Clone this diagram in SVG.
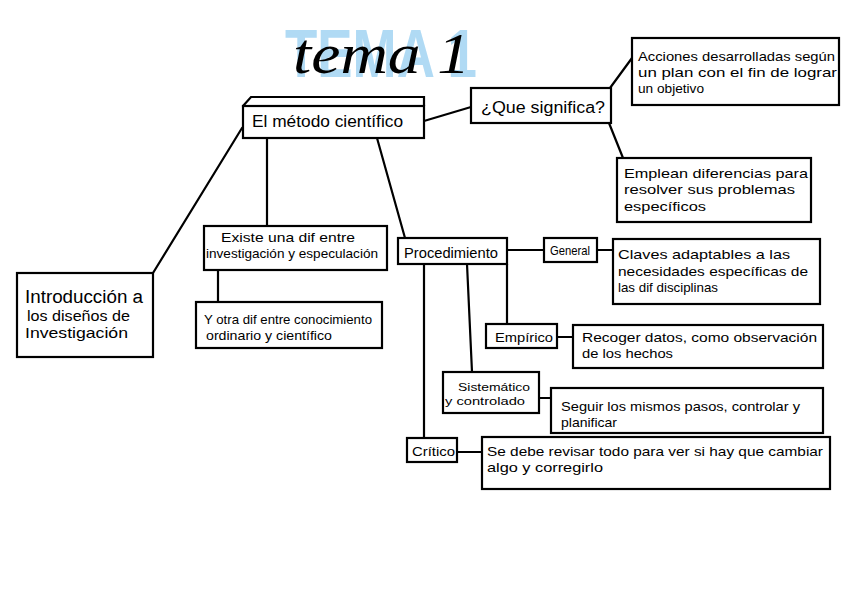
<svg xmlns="http://www.w3.org/2000/svg" width="848" height="599" viewBox="0 0 848 599">
<defs>
<style>
.b{fill:#fff;stroke:#000;stroke-width:2.2}
.c{fill:none;stroke:#000;stroke-width:2.2;stroke-linecap:round}
.t{font-family:"Liberation Sans","DejaVu Sans",sans-serif;font-size:13px;fill:#000}
.m{font-size:16px}
.s18{font-size:18px}
.s15{font-size:15px}
.s14{font-size:14px}
.s11{font-size:11px}
</style>
</defs>
<rect width="848" height="599" fill="#fff"/>
<g id="title">
<text x="285" y="77" font-family="'Liberation Sans',sans-serif" font-weight="bold" font-size="68" fill="#8ecbf0" fill-opacity="0.7" textLength="192" lengthAdjust="spacingAndGlyphs">TEMA 1</text>
<text x="293" y="73" font-family="'Liberation Serif',serif" font-style="italic" font-size="56" fill="#000" textLength="177" lengthAdjust="spacingAndGlyphs">tema 1</text>
</g>
<g id="connectors" class="c">
<line x1="424" y1="121" x2="471" y2="107"/>
<line x1="610" y1="88" x2="632" y2="58"/>
<line x1="609" y1="123" x2="623" y2="158"/>
<line x1="242" y1="128" x2="153" y2="273"/>
<line x1="267" y1="138" x2="267" y2="226"/>
<line x1="218" y1="270" x2="218" y2="302"/>
<line x1="377" y1="138" x2="405" y2="238"/>
<line x1="507" y1="250" x2="544" y2="250"/>
<line x1="597" y1="250" x2="613" y2="250"/>
<line x1="507" y1="264" x2="507" y2="324"/>
<line x1="557" y1="337" x2="573" y2="337"/>
<line x1="467" y1="264" x2="472" y2="372"/>
<line x1="539" y1="398" x2="551" y2="398"/>
<line x1="424" y1="264" x2="424" y2="437"/>
<line x1="457" y1="452" x2="482" y2="452"/>
</g>
<g id="metodo">
<rect class="b" x="243" y="106" width="181" height="32"/>
<path class="c" d="M243,106 L251,97 L424,97 L424,106"/>
<text class="t m" x="252" y="127" textLength="151" lengthAdjust="spacingAndGlyphs">El método científico</text>
</g>
<g id="que">
<rect class="b" x="471" y="88" width="140" height="35"/>
<text class="t m" x="481" y="113" textLength="124" lengthAdjust="spacingAndGlyphs">¿Que significa?</text>
</g>
<g id="acciones">
<rect class="b" x="632" y="38" width="207" height="67"/>
<text class="t" x="638" y="61" textLength="197" lengthAdjust="spacingAndGlyphs">Acciones desarrolladas según</text>
<text class="t" x="638" y="77" textLength="199" lengthAdjust="spacingAndGlyphs">un plan con el fin de lograr</text>
<text class="t" x="638" y="93" textLength="66" lengthAdjust="spacingAndGlyphs">un objetivo</text>
</g>
<g id="emplean">
<rect class="b" x="617" y="158" width="194" height="64"/>
<text class="t" x="624" y="178" textLength="184" lengthAdjust="spacingAndGlyphs">Emplean diferencias para</text>
<text class="t" x="624" y="194" textLength="171" lengthAdjust="spacingAndGlyphs">resolver sus problemas</text>
<text class="t" x="624" y="211" textLength="82" lengthAdjust="spacingAndGlyphs">específicos</text>
</g>
<g id="intro">
<rect class="b" x="17" y="273" width="136" height="84"/>
<text class="t s18" x="25" y="303" textLength="118" lengthAdjust="spacingAndGlyphs">Introducción a</text>
<text class="t s15" x="27" y="321" textLength="103" lengthAdjust="spacingAndGlyphs">los diseños de</text>
<text class="t s15" x="25" y="338" textLength="103" lengthAdjust="spacingAndGlyphs">Investigación</text>
</g>
<g id="existe">
<rect class="b" x="204" y="226" width="183" height="44"/>
<text class="t" x="221" y="242" textLength="134" lengthAdjust="spacingAndGlyphs">Existe una dif entre</text>
<text class="t" x="206" y="258" textLength="172" lengthAdjust="spacingAndGlyphs">investigación y especulación</text>
</g>
<g id="yotra">
<rect class="b" x="196" y="302" width="186" height="46"/>
<text class="t" x="204" y="324" textLength="168" lengthAdjust="spacingAndGlyphs">Y otra dif entre conocimiento</text>
<text class="t" x="206" y="340" textLength="126" lengthAdjust="spacingAndGlyphs">ordinario y científico</text>
</g>
<g id="procedimiento">
<rect class="b" x="398" y="238" width="109" height="26"/>
<text class="t s14" x="404" y="258" textLength="94" lengthAdjust="spacingAndGlyphs">Procedimiento</text>
</g>
<g id="general">
<rect class="b" x="544" y="238" width="53" height="24"/>
<text class="t" x="550" y="255" textLength="40" lengthAdjust="spacingAndGlyphs">General</text>
</g>
<g id="claves">
<rect class="b" x="613" y="239" width="207" height="65"/>
<text class="t" x="618" y="259" textLength="172" lengthAdjust="spacingAndGlyphs">Claves adaptables a las</text>
<text class="t" x="618" y="276" textLength="190" lengthAdjust="spacingAndGlyphs">necesidades específicas de</text>
<text class="t" x="618" y="292" textLength="100" lengthAdjust="spacingAndGlyphs">las dif disciplinas</text>
</g>
<g id="empirico">
<rect class="b" x="486" y="324" width="71" height="24"/>
<text class="t" x="495" y="342" textLength="58" lengthAdjust="spacingAndGlyphs">Empírico</text>
</g>
<g id="recoger">
<rect class="b" x="573" y="325" width="250" height="43"/>
<text class="t" x="582" y="342" textLength="235" lengthAdjust="spacingAndGlyphs">Recoger datos, como observación</text>
<text class="t" x="582" y="358" textLength="91" lengthAdjust="spacingAndGlyphs">de los hechos</text>
</g>
<g id="sistematico">
<rect class="b" x="443" y="372" width="96" height="41"/>
<text class="t s11" x="458" y="391" textLength="72" lengthAdjust="spacingAndGlyphs">Sistemático</text>
<text class="t s11" x="445" y="405" textLength="80" lengthAdjust="spacingAndGlyphs">y controlado</text>
</g>
<g id="seguir">
<rect class="b" x="551" y="388" width="272" height="45"/>
<text class="t" x="561" y="411" textLength="239" lengthAdjust="spacingAndGlyphs">Seguir los mismos pasos, controlar y</text>
<text class="t" x="561" y="427" textLength="56" lengthAdjust="spacingAndGlyphs">planificar</text>
</g>
<g id="critico">
<rect class="b" x="407" y="438" width="50" height="24"/>
<text class="t" x="412" y="456" textLength="43" lengthAdjust="spacingAndGlyphs">Crítico</text>
</g>
<g id="sedebe">
<rect class="b" x="482" y="437" width="348" height="52"/>
<text class="t" x="487" y="456" textLength="336" lengthAdjust="spacingAndGlyphs">Se debe revisar todo para ver si hay que cambiar</text>
<text class="t" x="487" y="472" textLength="116" lengthAdjust="spacingAndGlyphs">algo y corregirlo</text>
</g>
</svg>
